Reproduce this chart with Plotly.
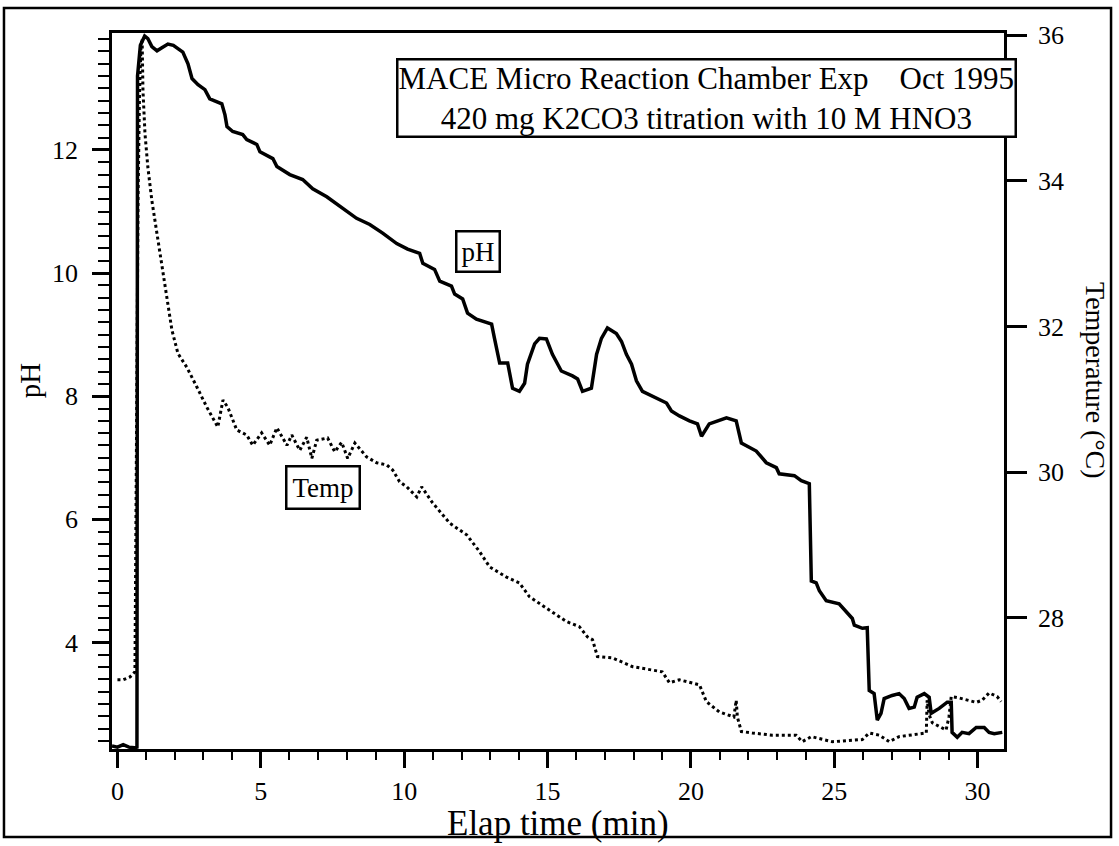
import plotly.graph_objects as go

# ---- data ----
ph_time = [-0.19, 0.0, 0.2, 0.4, 0.6, 0.68, 0.70, 0.80, 0.95, 1.06,
           1.2, 1.38, 1.55, 1.76, 1.95, 2.11, 2.28, 2.46, 2.6, 2.81,
           3.05, 3.22, 3.45, 3.64, 3.75, 3.82, 4.02, 4.37, 4.51, 4.86,
           4.97, 5.42, 5.56, 6.01, 6.46, 6.81, 7.30, 7.86, 8.34, 8.80,
           9.25, 9.74, 10.12, 10.54, 10.65, 11.06, 11.24, 11.65, 11.76, 12.04,
           12.21, 12.52, 13.05, 13.15, 13.33, 13.61, 13.78, 14.02, 14.2, 14.3,
           14.55, 14.72, 14.96, 15.17, 15.48, 15.87, 16.05, 16.22, 16.53, 16.71,
           16.88, 17.09, 17.4, 17.58, 17.75, 17.93, 18.1, 18.31, 18.8, 19.15,
           19.32, 19.6, 19.95, 20.23, 20.37, 20.64, 21.24, 21.58, 21.76, 22.28,
           22.63, 22.98, 23.08, 23.61, 23.85, 24.13, 24.2, 24.37, 24.48, 24.72,
           25.17, 25.63, 25.7, 25.98, 26.15, 26.22, 26.39, 26.5, 26.63, 26.74,
           27.02, 27.26, 27.44, 27.61, 27.79, 27.89, 28.14, 28.31, 28.38, 28.66,
           28.94, 29.08, 29.11, 29.29, 29.46, 29.70, 29.95, 30.23, 30.40, 30.58,
           30.86]
ph_values = [2.32, 2.30, 2.34, 2.30, 2.29, 2.30, 13.2, 13.7, 13.85, 13.81,
             13.68, 13.61, 13.66, 13.72, 13.70, 13.64, 13.59, 13.40, 13.16, 13.06,
             12.98, 12.83, 12.78, 12.75, 12.57, 12.38, 12.30, 12.25, 12.17, 12.09,
             11.97, 11.86, 11.73, 11.60, 11.52, 11.37, 11.24, 11.05, 10.89, 10.79,
             10.65, 10.48, 10.39, 10.32, 10.16, 10.06, 9.87, 9.79, 9.66, 9.58,
             9.35, 9.25, 9.17, 8.94, 8.54, 8.54, 8.13, 8.08, 8.21, 8.52,
             8.85, 8.94, 8.93, 8.68, 8.41, 8.33, 8.28, 8.08, 8.13, 8.68,
             8.94, 9.11, 9.02, 8.89, 8.68, 8.52, 8.25, 8.08, 7.97, 7.89,
             7.76, 7.68, 7.60, 7.55, 7.35, 7.55, 7.65, 7.60, 7.24, 7.11,
             6.92, 6.84, 6.74, 6.71, 6.63, 6.58, 5.0, 4.97, 4.84, 4.68,
             4.63, 4.39, 4.28, 4.23, 4.24, 3.22, 3.17, 2.74, 2.85, 3.09,
             3.14, 3.17, 3.09, 2.93, 2.95, 3.11, 3.17, 3.11, 2.85, 2.93,
             3.03, 3.03, 2.54, 2.46, 2.54, 2.52, 2.62, 2.62, 2.54, 2.52,
             2.54]

temp_time = [0.0, 0.2, 0.44, 0.61, 0.64, 0.68, 0.72, 0.77, 0.82, 0.86,
             0.89, 0.96, 1.06, 1.2, 1.38, 1.55, 1.73, 1.9, 2.11, 2.42,
             2.77, 3.12, 3.5, 3.68, 3.85, 4.16, 4.51, 4.72, 5.03, 5.31,
             5.56, 5.91, 6.08, 6.36, 6.60, 6.78, 6.95, 7.33, 7.58, 7.82,
             8.03, 8.28, 8.69, 9.04, 9.39, 9.6, 9.84, 10.09, 10.44, 10.61,
             10.99, 11.59, 12.18, 12.63, 12.98, 13.57, 14.02, 14.37, 14.9, 15.66,
             16.11, 16.39, 16.57, 16.74, 17.27, 17.97, 19.0, 19.25, 19.6, 20.3,
             20.54, 20.99, 21.5, 21.58, 21.62, 21.76, 22.14, 22.84, 23.67, 23.88,
             24.2, 24.93, 25.98, 26.22, 26.57, 26.92, 27.26, 27.72, 28.21, 28.24,
             28.31, 28.42, 28.9, 29.0, 29.08, 29.36, 29.95, 30.16, 30.40, 30.68,
             30.82]
temp_values = [27.15, 27.15, 27.19, 27.26, 29.0, 31.5, 33.8, 35.2, 35.85, 35.95,
               35.24, 34.65, 34.19, 33.73, 33.28, 32.81, 32.36, 31.95, 31.63, 31.44,
               31.17, 30.89, 30.62, 30.99, 30.89, 30.58, 30.51, 30.37, 30.54, 30.37,
               30.61, 30.37, 30.51, 30.30, 30.48, 30.19, 30.44, 30.47, 30.28, 30.41,
               30.19, 30.40, 30.21, 30.13, 30.10, 30.03, 29.87, 29.80, 29.66, 29.80,
               29.58, 29.30, 29.14, 28.91, 28.70, 28.56, 28.48, 28.29, 28.15, 27.95,
               27.88, 27.74, 27.70, 27.47, 27.45, 27.33, 27.26, 27.11, 27.15, 27.08,
               26.85, 26.71, 26.64, 26.87, 26.64, 26.44, 26.42, 26.39, 26.39, 26.30,
               26.37, 26.30, 26.33, 26.42, 26.39, 26.30, 26.37, 26.39, 26.42, 26.87,
               26.67, 26.56, 26.46, 26.64, 26.92, 26.90, 26.84, 26.87, 26.97, 26.92,
               26.85]

x_ticks = [0, 5, 10, 15, 20, 25, 30]
ph_ticks = [4, 6, 8, 10, 12]
temp_ticks = [28, 30, 32, 34, 36]

title_text = ("MACE Micro Reaction Chamber Exp\u00a0\u00a0\u00a0\u00a0Oct 1995<br>"
              "420 mg K2CO3 titration with 10 M HNO3")

FONT = "Liberation Serif, Times New Roman, serif"

fig = go.Figure()
fig.add_trace(go.Scatter(x=ph_time, y=ph_values, mode="lines",
                         line=dict(color="black", width=3.5), yaxis="y",
                         showlegend=False))
fig.add_trace(go.Scatter(x=temp_time, y=temp_values, mode="lines",
                         line=dict(color="black", width=3, dash="dot"), yaxis="y2",
                         showlegend=False))

fig.update_layout(
    width=1119, height=846,
    margin=dict(l=112, r=115, t=33, b=97),
    paper_bgcolor="white", plot_bgcolor="white",
    font=dict(family=FONT, size=26, color="black"),
    xaxis=dict(range=[-0.19, 30.92], tickvals=x_ticks, ticks="outside",
               ticklen=16, tickwidth=2.5, tickcolor="black",
               showline=True, linewidth=2.5, linecolor="black", mirror=True,
               showgrid=False, zeroline=False, ticklabelstandoff=1,
               tickfont=dict(size=26), automargin=False,
               minor=dict(dtick=1, ticks="outside", ticklen=8, tickwidth=2,
                          tickcolor="black", showgrid=False)),
    yaxis=dict(range=[2.27, 13.9], tickvals=ph_ticks, ticks="outside",
               ticklen=17, tickwidth=2.5, tickcolor="black",
               showline=True, linewidth=2.5, linecolor="black",
               showgrid=False, zeroline=False, ticklabelstandoff=9,
               tickfont=dict(size=26), automargin=False,
               minor=dict(dtick=0.2, tick0=0, ticks="outside", ticklen=11,
                          tickwidth=2, tickcolor="black", showgrid=False)),
    yaxis2=dict(range=[26.2, 36.03], tickvals=temp_ticks, overlaying="y",
                side="right", ticks="outside", ticklen=20, tickwidth=2.5,
                tickcolor="black", showline=True, linewidth=2.5,
                linecolor="black", showgrid=False, zeroline=False,
                ticklabelstandoff=6, tickfont=dict(size=26), automargin=False),
    annotations=[
        dict(text=title_text, xref="paper", yref="paper", x=0.667, y=0.909,
             xanchor="center", yanchor="middle", showarrow=False, align="center",
             font=dict(size=31), bordercolor="black", borderwidth=2.5,
             borderpad=0, bgcolor="white"),
        dict(text="pH", xref="x", yref="y", x=12.57, y=10.35, showarrow=False,
             xanchor="center", yanchor="middle",
             font=dict(size=27), bordercolor="black", borderwidth=2.5,
             borderpad=4, bgcolor="white"),
        dict(text="Temp", xref="x", yref="y", x=7.17, y=6.51, showarrow=False,
             xanchor="center", yanchor="middle",
             font=dict(size=27), bordercolor="black", borderwidth=2.5,
             borderpad=5, bgcolor="white"),
        dict(text="pH", xref="paper", yref="paper", x=-0.092, y=0.515,
             xanchor="center", yanchor="middle",
             textangle=-90, showarrow=False, font=dict(size=29)),
        dict(text="Elap time (min)", xref="paper", yref="paper", x=0.5,
             y=-0.104, xanchor="center", yanchor="middle",
             showarrow=False, font=dict(size=35)),
        dict(text="Temperature (°C)", xref="paper", yref="paper", x=1.102,
             y=0.514, xanchor="center", yanchor="middle",
             textangle=90, showarrow=False, font=dict(size=28)),
    ],
    shapes=[
        dict(type="rect", xref="paper", yref="paper", x0=-0.1211, x1=1.12,
             y0=-0.1229, y1=1.0349, line=dict(color="black", width=2.5),
             layer="below"),
    ],
)

fig.write_html("out.html", config={"displayModeBar": False},
               post_script="document.body.style.margin='0px';document.body.style.overflow='hidden';")
